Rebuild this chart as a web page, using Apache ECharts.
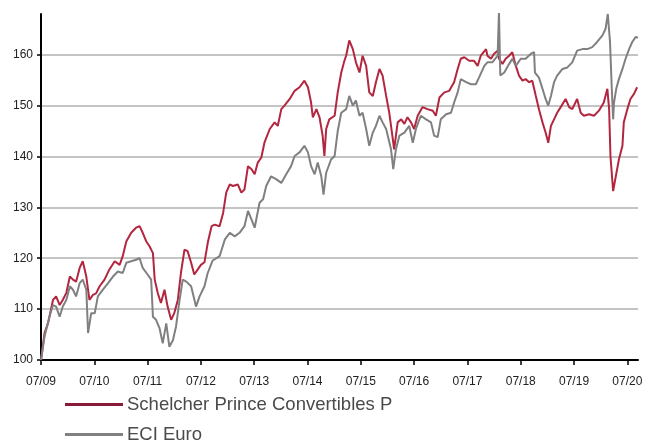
<!DOCTYPE html>
<html>
<head>
<meta charset="utf-8">
<script src="https://cdn.jsdelivr.net/npm/echarts@6/dist/echarts.min.js"></script>
<style>
  html, body { margin: 0; padding: 0; background: #fff; }
  #chart { width: 651px; height: 443px; }
</style>
</head>
<body>
<div id="chart"></div>
<script>
// x values are months since 07/2009
const tickMonths = [0, 12, 24, 36, 48, 60, 72, 84, 96, 108, 120, 132]
const tickLabels = ['07/09', '07/10', '07/11', '07/12', '07/13', '07/14', '07/15', '07/16', '07/17', '07/18', '07/19', '07/20']
const yTicks = [100, 110, 120, 130, 140, 150, 160]

const fundName = 'Schelcher Prince Convertibles P'
const indexName = 'ECI Euro'

const fundMonths = [
  0, 0.8, 1.6, 2.7, 3.4, 4.2, 4.9, 5.7, 6.5, 7.2, 7.9, 8.7, 9.4, 10.2, 10.9, 11.7,
  12.4, 13.2, 14.3, 15.4, 16.6, 17.7, 18.4, 19.2, 20.3, 21.4, 22.2, 22.9, 23.7, 24.4,
  25.2, 25.6, 26.3, 27.0, 27.8, 28.5, 29.3, 30.0, 30.8, 31.5, 32.3, 33.0, 33.8, 34.5,
  35.3, 36.0, 36.8, 37.6, 38.4, 39.1, 40.2, 41.0, 41.7, 42.5, 43.2, 44.3, 45.1, 45.8,
  46.6, 47.4, 48.1, 48.8, 49.6, 50.3, 51.5, 52.6, 53.3, 54.1, 54.8, 56.0, 57.1, 58.2,
  59.3, 60.1, 60.8, 61.2, 62.0, 62.7, 63.4, 63.8, 64.2, 64.9, 66.1, 66.8, 67.6, 68.3,
  68.7, 69.4, 70.2, 70.9, 71.7, 72.4, 73.2, 73.9, 74.7, 75.4, 76.2, 76.9, 77.7, 78.4,
  79.2, 79.5, 80.3, 81.1, 81.8, 82.5, 83.3, 84.0, 84.8, 85.9, 87.0, 88.2, 88.9, 89.7,
  90.8, 91.9, 93.0, 93.8, 94.5, 95.3, 96.4, 97.5, 98.3, 99.0, 100.2, 100.5, 101.3, 102.0,
  102.8, 103.1, 103.9, 104.6, 105.4, 106.1, 106.9, 107.6, 108.4, 109.1, 109.9, 110.6,
  111.4, 112.1, 112.9, 113.6, 114.2, 114.8, 115.5, 116.2, 117.0, 118.1, 118.9, 119.6,
  120.7, 121.5, 122.2, 123.4, 124.5, 125.6, 126.7, 127.5, 127.9, 128.2, 128.8, 129.4,
  130.1, 130.9, 131.2, 132.0, 132.7, 133.5, 134.2
]
const fundValues = [
  100, 105.3, 107.3, 111.8, 112.5, 110.8, 111.8, 113.2, 116.4, 115.8, 115.4, 118.1, 119.4, 116.4, 111.8, 112.8,
  113.1, 114.5, 115.8, 117.8, 119.4, 118.7, 120.4, 123.3, 125.0, 126.0, 126.3, 125.0, 123.3, 122.4,
  121.0, 115.8, 113.1, 111.2, 113.8, 110.5, 107.9, 109.2, 111.8, 117.1, 121.7, 121.4, 119.1, 116.8,
  117.8, 118.7, 119.2, 123.3, 126.3, 126.6, 126.3, 128.9, 132.9, 134.5, 134.2, 134.5, 132.9, 133.5,
  138.1, 137.5, 136.5, 138.8, 139.8, 142.7, 145.4, 146.7, 146.0, 149.3, 150.0, 151.3, 152.9, 153.6,
  154.9, 153.6, 150.6, 147.7, 149.3, 147.7, 144.1, 140.1, 145.4, 147.3, 148.0, 152.6, 156.5, 158.8,
  159.8, 162.8, 161.1, 158.5, 156.5, 159.8, 157.8, 152.6, 151.9, 154.6, 157.2, 155.9, 151.9, 148.6,
  143.4, 141.4, 146.7, 147.3, 146.4, 147.7, 146.7, 145.4, 148.0, 149.7, 149.3, 149.0, 148.0, 151.6,
  152.6, 152.9, 154.6, 157.2, 159.2, 159.5, 158.8, 158.8, 157.8, 159.8, 161.1, 159.8, 159.2, 160.2,
  160.8, 159.2, 158.2, 159.2, 159.8, 160.5, 157.8, 155.9, 154.9, 155.2, 154.6, 154.9,
  151.9, 149.3, 146.7, 144.7, 142.7, 146.0, 147.3, 148.6, 149.7, 151.3, 149.7, 149.3,
  151.3, 148.6, 148.0, 148.3, 148.0, 149.0, 150.6, 153.3, 149.3, 140.1, 133.2, 136.1,
  139.4, 142.1, 146.7, 149.3, 151.3, 152.3, 153.6
]

const indexMonths = [
  0, 0.8, 1.9, 2.7, 3.4, 4.2, 4.9, 5.7, 6.5, 7.2, 7.9, 8.7, 9.4, 10.2, 10.6, 11.3,
  12.1, 12.8, 13.9, 15.1, 16.2, 17.3, 18.4, 19.2, 20.3, 21.4, 22.2, 22.9, 24.0, 24.8,
  25.2, 25.9, 26.7, 27.4, 28.2, 28.9, 29.7, 30.4, 31.2, 31.9, 32.7, 33.8, 34.9, 35.7,
  36.8, 37.5, 38.6, 40.2, 41.4, 42.5, 43.6, 44.7, 45.8, 46.6, 47.4, 48.1, 49.2, 50.0,
  50.7, 51.8, 53.0, 54.1, 55.2, 56.3, 57.1, 58.2, 59.3, 60.1, 60.8, 61.6, 62.3, 63.1,
  63.6, 64.2, 65.3, 66.1, 66.8, 67.6, 68.7, 69.4, 70.2, 70.9, 71.7, 72.4, 73.2, 73.9,
  74.7, 75.4, 76.2, 76.9, 77.7, 78.8, 79.3, 79.9, 80.7, 81.8, 82.9, 83.7, 84.4, 85.5,
  86.7, 87.8, 88.5, 89.3, 90.0, 91.2, 92.3, 93.0, 93.8, 94.5, 95.7, 96.8, 97.9, 98.6,
  99.8, 100.5, 101.6, 102.8, 103.1, 103.4, 104.3, 105.4, 106.1, 106.9, 108.0, 109.1,
  110.3, 111.0, 111.2, 112.1, 112.9, 113.6, 114.2, 114.8, 115.5, 116.2, 117.4, 118.5,
  119.6, 120.7, 121.9, 123.0, 124.1, 125.2, 126.4, 127.1, 127.6, 128.1, 128.5, 128.8,
  129.0, 129.5, 130.1, 130.9, 131.6, 132.4, 133.1, 133.9, 134.4
]
const indexValues = [
  100, 104.6, 108.5, 110.8, 110.5, 108.5, 110.5, 111.8, 114.5, 113.8, 112.5, 115.1, 115.8, 113.8, 105.3, 109.2,
  109.2, 112.5, 113.8, 115.1, 116.4, 117.4, 117.1, 119.1, 119.4, 119.7, 120.0, 118.1, 116.8, 115.8,
  108.5, 107.9, 106.2, 103.3, 107.2, 102.6, 103.9, 106.6, 111.8, 115.8, 115.4, 114.5, 110.5, 112.5,
  114.5, 117.0, 119.5, 120.4, 123.7, 125.0, 124.3, 125.0, 126.3, 129.3, 127.6, 126.0, 130.9, 131.6,
  134.2, 136.1, 135.5, 134.8, 136.5, 138.1, 140.1, 140.8, 142.1, 140.8, 138.1, 136.5, 138.8, 136.1,
  132.5, 136.8, 139.4, 140.1, 145.0, 148.6, 149.3, 151.9, 150.0, 151.0, 148.0, 148.6, 145.4, 142.1,
  144.7, 146.0, 148.0, 146.7, 145.4, 141.4, 137.5, 141.4, 144.1, 144.7, 146.0, 142.7, 145.4, 148.0,
  147.3, 146.7, 144.1, 143.8, 147.3, 148.3, 148.6, 150.6, 152.6, 155.2, 154.6, 154.2, 154.2, 155.5,
  157.8, 158.5, 158.5, 159.8, 168.4, 155.9, 156.5, 158.2, 159.2, 157.8, 159.2, 159.2,
  160.2, 160.5, 156.5, 155.5, 153.3, 151.3, 150.0, 151.9, 154.6, 155.9, 157.2, 157.5,
  158.5, 160.8, 161.1, 161.1, 161.5, 162.5, 163.8, 165.1, 168.0, 162.5, 153.3, 147.3,
  150.6, 153.3, 155.2, 157.2, 159.2, 161.1, 162.5, 163.5, 163.3
]

const fundColor = '#b3263f'
const fundLegendColor = '#8a1b38'
const indexColor = '#808080'

const chart = echarts.init(document.getElementById('chart'), null, { renderer: 'canvas' })

const zip = (xs, ys) => xs.map((x, i) => [x, ys[i]])

// text is nudged up a little against the legend line, as in the original
const legendBase = {
  orient: 'vertical',
  left: 65,
  padding: 0,
  itemWidth: 58,
  itemHeight: 3,
  icon: 'rect',
  selectedMode: false,
  textStyle: { color: '#4a4a4a', fontFamily: 'Liberation Sans, Arial', fontSize: 18.5, padding: [0, 0, 6, -1] }
}

const option = {
  animation: false,
  backgroundColor: '#fff',
  grid: { left: 41, right: 13, top: 14, bottom: 83, containLabel: false },
  xAxis: {
    type: 'value',
    min: 0,
    max: 134.4,
    interval: 12,
    axisLine: { show: true, onZero: false, lineStyle: { color: '#000', width: 2 } },
    axisTick: { show: true, length: 5, customValues: tickMonths, lineStyle: { color: '#000', width: 1.5 } },
    axisLabel: {
      customValues: tickMonths,
      margin: 16,
      color: '#222',
      fontFamily: 'Liberation Sans, Arial',
      fontSize: 12,
      formatter: (v) => tickLabels[Math.round(v / 12)] || ''
    },
    splitLine: { show: false }
  },
  yAxis: {
    type: 'value',
    min: 100,
    max: 168,
    interval: 10,
    axisLine: { show: true, lineStyle: { color: '#000', width: 2 } },
    axisTick: { show: true, length: 4, customValues: yTicks, lineStyle: { color: '#000', width: 1.5 } },
    axisLabel: {
      customValues: yTicks,
      margin: 8,
      color: '#222',
      fontFamily: 'Liberation Sans, Arial',
      fontSize: 12
    },
    splitLine: { show: true, lineStyle: { color: '#c4c4c4', width: 2 } }
  },
  legend: [
    Object.assign({}, legendBase, {
      top: 395,
      data: [{ name: fundName, itemStyle: { color: fundLegendColor } }]
    }),
    Object.assign({}, legendBase, {
      top: 425,
      data: [{ name: indexName, itemStyle: { color: indexColor } }]
    })
  ],
  series: [
    {
      name: fundName,
      type: 'line',
      data: zip(fundMonths, fundValues),
      showSymbol: false,
      lineStyle: { color: fundColor, width: 2 },
      itemStyle: { color: fundColor },
      z: 2
    },
    {
      name: indexName,
      type: 'line',
      data: zip(indexMonths, indexValues),
      showSymbol: false,
      lineStyle: { color: indexColor, width: 2 },
      itemStyle: { color: indexColor },
      z: 3
    }
  ]
}

chart.setOption(option)
</script>
</body>
</html>
